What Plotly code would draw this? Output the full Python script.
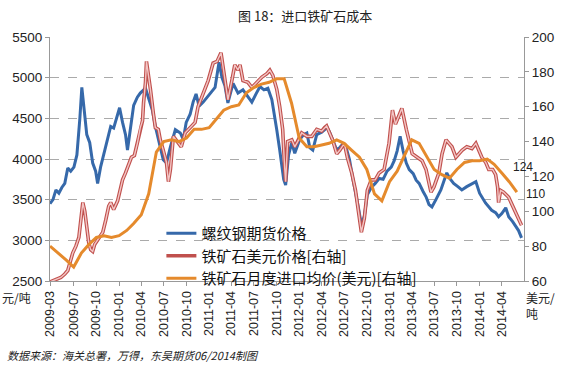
import plotly.graph_objects as go

# ---------------- data ----------------
rebar_dates = [
 "2009-03-27","2009-04-08","2009-04-20","2009-05-02","2009-05-14","2009-05-26","2009-06-07","2009-06-19",
 "2009-07-02","2009-07-14","2009-07-26","2009-08-03","2009-08-11","2009-08-23","2009-09-04","2009-09-16",
 "2009-09-28","2009-10-06","2009-10-18","2009-11-04","2009-11-16","2009-11-28","2009-12-10","2009-12-22",
 "2010-01-03","2010-01-15","2010-01-27","2010-02-04","2010-02-16","2010-03-01","2010-03-16","2010-03-28",
 "2010-04-18","2010-04-30","2010-05-16","2010-05-28","2010-06-13","2010-06-29","2010-07-12","2010-07-28",
 "2010-08-17","2010-09-06","2010-09-18","2010-09-30","2010-10-16","2010-10-28","2010-11-09","2010-11-21",
 "2010-12-08","2010-12-24","2011-01-09","2011-01-25","2011-02-10","2011-02-22","2011-03-06","2011-03-18",
 "2011-04-08","2011-04-28","2011-05-18","2011-06-03","2011-06-23","2011-07-10","2011-07-26","2011-08-11",
 "2011-08-27","2011-09-12","2011-09-24","2011-10-02","2011-10-14","2011-10-22","2011-10-30","2011-11-07",
 "2011-11-19","2011-12-02","2011-12-14","2012-01-03","2012-01-19","2012-02-01","2012-02-13","2012-02-25",
 "2012-03-12","2012-04-01","2012-04-13","2012-04-21","2012-05-03","2012-05-15","2012-06-01","2012-06-13",
 "2012-06-25","2012-07-11","2012-07-23","2012-08-04","2012-08-16","2012-08-28","2012-09-09","2012-09-21",
 "2012-10-03","2012-10-19","2012-11-04","2012-11-20","2012-12-06","2012-12-22","2013-01-08","2013-01-20",
 "2013-02-01","2013-02-13","2013-02-25","2013-03-10","2013-03-22","2013-04-07","2013-04-19","2013-05-01",
 "2013-05-17","2013-05-29","2013-06-10","2013-06-22","2013-07-08","2013-07-28","2013-08-13","2013-08-21",
 "2013-09-02","2013-09-18","2013-10-05","2013-10-21","2013-11-10","2013-12-01","2013-12-17","2014-01-01",
 "2014-01-25","2014-02-19","2014-03-07","2014-03-19","2014-04-01","2014-04-17","2014-04-29","2014-05-15",
 "2014-05-27","2014-06-08","2014-06-20"]
rebar_price = [
 3450,3500,3620,3580,3650,3700,3890,3850,
 3900,4050,4500,4880,4650,4300,4200,3950,
 3850,3700,3900,4100,4250,4400,4380,4500,
 4630,4450,4300,4110,4400,4660,4760,4810,
 4870,4750,4600,4400,4200,3990,3950,4150,
 4360,4320,4240,4450,4550,4700,4800,4650,
 4700,4760,4820,4880,5190,5000,4900,4690,
 4930,4810,4850,4780,4700,4800,4890,4850,
 4870,4730,4520,4360,4110,3950,3750,3680,
 4050,4200,4070,4240,4300,4320,4140,4110,
 4300,4330,4360,4400,4330,4240,4110,4140,
 4180,4120,3990,3780,3600,3400,3190,3300,
 3560,3650,3700,3760,3750,3850,3900,3980,
 4100,4280,4100,3950,3870,3820,3740,3700,
 3600,3535,3440,3410,3500,3620,3760,3830,
 3760,3700,3660,3620,3660,3700,3720,3580,
 3460,3370,3340,3290,3330,3400,3290,3230,
 3170,3120,3030]

ore_dates = [
 "2009-03-27","2009-04-20","2009-05-10","2009-05-26","2009-06-07","2009-06-19","2009-06-27","2009-07-10",
 "2009-07-22","2009-07-30","2009-08-07","2009-08-15","2009-08-23","2009-08-31","2009-09-08","2009-09-16",
 "2009-09-24","2009-10-11","2009-10-27","2009-11-08","2009-11-20","2009-11-28","2009-12-10","2009-12-26",
 "2010-01-07","2010-01-15","2010-01-27","2010-02-08","2010-02-20","2010-03-04","2010-03-16","2010-03-28",
 "2010-04-06","2010-04-10","2010-04-18","2010-04-22","2010-04-30","2010-05-08","2010-05-20","2010-05-28",
 "2010-06-09","2010-06-17","2010-06-29","2010-07-12","2010-07-20","2010-07-28","2010-08-09","2010-08-25",
 "2010-09-10","2010-09-26","2010-10-16","2010-11-05","2010-11-17","2010-12-08","2010-12-28","2011-01-17",
 "2011-02-02","2011-02-18","2011-02-26","2011-03-10","2011-03-18","2011-04-03","2011-04-15","2011-04-28",
 "2011-05-06","2011-05-18","2011-06-07","2011-06-23","2011-07-14","2011-08-03","2011-08-23","2011-09-04",
 "2011-09-16","2011-10-02","2011-10-14","2011-10-26","2011-11-03","2011-11-07","2011-11-15","2011-12-02",
 "2011-12-14","2011-12-26","2012-01-11","2012-02-01","2012-02-21","2012-03-12","2012-04-01","2012-04-13",
 "2012-04-21","2012-05-03","2012-05-15","2012-06-01","2012-06-13","2012-07-02","2012-07-14","2012-08-01",
 "2012-08-16","2012-08-28","2012-09-09","2012-09-21","2012-10-03","2012-10-19","2012-11-04","2012-11-20",
 "2012-12-10","2012-12-30","2013-01-13","2013-01-25","2013-02-08","2013-02-20","2013-03-10","2013-03-22",
 "2013-04-03","2013-04-23","2013-05-13","2013-05-29","2013-06-10","2013-06-18","2013-06-30","2013-07-20",
 "2013-08-02","2013-08-18","2013-08-30","2013-09-11","2013-09-27","2013-10-10","2013-10-22","2013-11-10",
 "2013-12-01","2013-12-17","2013-12-29","2014-01-10","2014-01-26","2014-02-07","2014-02-23","2014-03-07",
 "2014-03-15","2014-03-19","2014-03-27","2014-04-08","2014-04-29","2014-05-19","2014-06-08","2014-06-20"]
ore_usd = [
 59.5,61,62,64,66,72,76,80,
 85,95,105,100,92,82,78,77,
 81,85,88,95,103,105,101,106,
 114,118,122,127,131,132,139,148,
 152,162,174,186,179,170,156,148,
 147,141,135,128,117,124,143,140,
 137,145,148,151,160,168,175,185,
 186,191,183,170,164,175,184,181,
 184,175,174,171,174,177,179,181,
 178,170,160,147,125,117,140,141,
 137,140,145,143,143,147,146,148,
 149,145,141,133,135,139,131,122,
 112,100,88,96,112,118,118,122,
 124,139,158,150,155,159,147,139,
 133,131,129,124,116,111,114,122,
 133,141,139,137,131,133,135,137,
 136,139,135,131,128,124,124,121,
 114,105,112,111,108,102,96,92]

import_months = [
 "2009-03-27","2009-05-01","2009-06-01","2009-07-01","2009-08-01","2009-09-01","2009-10-01","2009-11-01",
 "2009-12-01","2010-01-01","2010-02-01","2010-03-01","2010-04-01","2010-05-01","2010-06-01","2010-07-01",
 "2010-08-01","2010-09-01","2010-10-01","2010-11-01","2010-12-01","2011-01-01","2011-02-01","2011-03-01",
 "2011-04-01","2011-05-01","2011-06-01","2011-07-01","2011-08-01","2011-09-01","2011-10-01","2011-11-01",
 "2011-12-01","2012-01-01","2012-02-01","2012-03-01","2012-04-01","2012-05-01","2012-06-01","2012-07-01",
 "2012-08-01","2012-09-01","2012-10-01","2012-11-01","2012-12-01","2013-01-01","2013-02-01","2013-03-01",
 "2013-04-01","2013-05-01","2013-06-01","2013-07-01","2013-08-01","2013-09-01","2013-10-01","2013-11-01",
 "2013-12-01","2014-01-01","2014-02-01","2014-03-01","2014-04-01","2014-05-01","2014-06-01"]
import_avg = [
 80,76,72,68,76,81,85,86,
 85,86,89,93,98,110,134,140,
 141,140,142,147,147,148,153,158,
 160,161,168,171,173,174,176,176,
 162,142,137,137,138,139,141,139,
 135,131,124,110,106,117,123,132,
 141,139,131,124,121,119,124,128,
 129,129,130,127,122,117,111]

tick_dates = ["2009-03-27","2009-07-01","2009-10-01","2010-01-01","2010-04-01","2010-07-01","2010-10-01",
              "2011-01-01","2011-04-01","2011-07-01","2011-10-01","2012-01-01","2012-04-01","2012-07-01",
              "2012-10-01","2013-01-01","2013-04-01","2013-07-01","2013-10-01","2014-01-01","2014-04-01"]
tick_labels = ["2009-03","2009-07","2009-10","2010-01","2010-04","2010-07","2010-10",
               "2011-01","2011-04","2011-07","2011-10","2012-01","2012-04","2012-07",
               "2012-10","2013-01","2013-04","2013-07","2013-10","2014-01","2014-04"]

names = ["螺纹钢期货价格", "铁矿石美元价格[右轴]", "铁矿石月度进口均价(美元)[右轴]"]
title_text = "图 18：进口铁矿石成本"
source_text = "数据来源：海关总署，万得，东吴期货06/2014制图"

# ---------------- figure ----------------
CJK = "Noto Sans CJK SC"
NUM = "Liberation Sans, Arial"
fig = go.Figure()
fig.add_trace(go.Scatter(x=rebar_dates, y=rebar_price, name=names[0], mode="lines",
                         line=dict(color="#3669aa", width=3)))
fig.add_trace(go.Scatter(x=ore_dates, y=ore_usd, name=names[1], mode="lines", yaxis="y2",
                         line=dict(color="#c0504d", width=3.6)))
fig.add_trace(go.Scatter(x=ore_dates, y=ore_usd, name=names[1], mode="lines", yaxis="y2",
                         showlegend=False, hoverinfo="skip",
                         line=dict(color="#f3c6c5", width=1.4)))
fig.add_trace(go.Scatter(x=import_months, y=import_avg, name=names[2], mode="lines", yaxis="y2",
                         line=dict(color="#e58a2c", width=3)))

fig.update_layout(
    width=566, height=367,
    margin=dict(l=49, r=41, t=37, b=86),
    paper_bgcolor="white", plot_bgcolor="white",
    showlegend=True,
    legend=dict(x=0.235, y=0.262, xanchor="left", yanchor="top",
                bgcolor="rgba(0,0,0,0)", font=dict(family=CJK, size=15, color="#111"),
                itemwidth=30, tracegroupgap=0),
    xaxis=dict(type="date", range=["2009-03-27", "2014-06-30"],
               tickmode="array", tickvals=tick_dates, ticktext=tick_labels,
               tickangle=-90, ticks="outside", ticklen=4, tickcolor="#999",
               showline=True, linecolor="#999", linewidth=1, showgrid=False,
               tickfont=dict(family=NUM, size=12.5, color="#222")),
    yaxis=dict(range=[2500, 5500], dtick=500, tick0=2500,
               ticks="outside", ticklen=4, tickcolor="#999",
               showline=True, linecolor="#999", linewidth=1,
               showgrid=True, gridcolor="#aaaaaa", griddash="dash", gridwidth=1,
               zeroline=False, tickfont=dict(family=NUM, size=13.5, color="#222")),
    yaxis2=dict(range=[60, 200], dtick=20, tick0=60, overlaying="y", side="right",
                ticks="outside", ticklen=4, tickcolor="#999",
                showline=True, linecolor="#999", linewidth=1, showgrid=False,
                zeroline=False, tickfont=dict(family=NUM, size=13.5, color="#222")),
)

fig.add_annotation(text=title_text, xref="paper", yref="paper", x=0.538, y=1.09,
                   xanchor="center", yanchor="middle",
                   showarrow=False, font=dict(family=CJK, size=13, color="#222"))
fig.add_annotation(text="元/吨", xref="paper", yref="paper", x=-0.071, y=-0.066,
                   xanchor="center", yanchor="middle",
                   showarrow=False, font=dict(family=CJK, size=12, color="#222"))
fig.add_annotation(text="美元/<br>吨", xref="paper", yref="paper", x=1.0, y=-0.026,
                   xanchor="left", yanchor="top", align="left",
                   showarrow=False, font=dict(family=CJK, size=12, color="#222"))
fig.add_annotation(text="<i>" + source_text + "</i>", xref="paper", yref="paper",
                   x=-0.095, y=-0.303, xanchor="left", yanchor="middle", showarrow=False,
                   font=dict(family=CJK, size=11, color="#222"))
fig.add_annotation(text="124", xref="paper", yref="y2", x=0.998, y=125.5,
                   xanchor="center", yanchor="middle",
                   showarrow=False, font=dict(family=NUM, size=12, color="#222"))
fig.add_annotation(text="110", xref="paper", yref="y2", x=1.025, y=109.9,
                   xanchor="center", yanchor="middle",
                   showarrow=False, font=dict(family=NUM, size=12, color="#222"))

fig.write_html("out.html", config={"displayModeBar": False},
               post_script="document.body.style.margin='0';")
